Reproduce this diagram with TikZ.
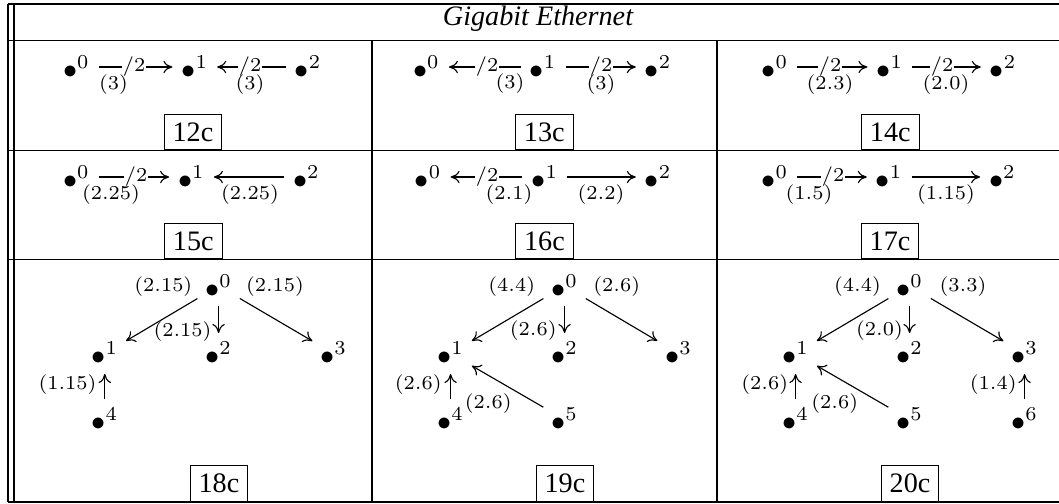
\documentclass[tikz,border=0pt]{standalone}
\usepackage[no-math]{fontspec}
\setmainfont{Liberation Serif}
\usetikzlibrary{arrows.meta}

\begin{document}
\begin{tikzpicture}[
  x=0.355pt, y=-0.355pt,
  >={To[length=3.2pt,width=4.4pt]},
  rule/.style={line width=0.4pt},
  vtx/.style={inner sep=0pt, font=\fontsize{10}{12}\selectfont},
  lbl/.style={inner sep=0pt, font=\fontsize{7}{8.4}\selectfont},
  cut/.style={inner sep=0.3pt, fill=white, font=\fontsize{7}{8.4}\selectfont},
  tag/.style={draw, line width=0.4pt, inner sep=3pt, anchor=south, font=\fontsize{10}{12}\selectfont},
  edge/.style={->, line width=0.4pt, shorten <=3pt, shorten >=3pt},
]
\useasboundingbox (0,0) rectangle (1059,504);

% --- Table rules ---
\draw[rule] (8,4) -- (1059,4);
\draw[rule] (8,40.5) -- (1059,40.5);
\draw[rule] (8,150.5) -- (1059,150.5);
\draw[rule] (8,259.5) -- (1059,259.5);
\draw[rule] (8,502) -- (1059,502);
\draw[rule] (8,4) -- (8,502);
\draw[rule] (14,4) -- (14,502);
\draw[rule] (372,40.5) -- (372,502);
\draw[rule] (717,40.5) -- (717,502);

% --- Header ---
\node[font=\fontsize{10}{12}\selectfont\itshape, anchor=base] (title) at (538,25) {Gigabit Ethernet};

% --- 12c ---
\node[vtx] (a0) at (76.5,67) {$\bullet^0$};
\node[vtx] (a1) at (194.8,67) {$\bullet^1$};
\node[vtx] (a2) at (308.2,67) {$\bullet^2$};
\draw[edge] (a0) -- (a1);
\draw[edge] (a2) -- (a1);
\node[cut] (c12a) at (134,67) {$/2$};
\node[cut] (c12b) at (250,67) {$/2$};
\node[lbl] (l12a) at (113.5,85) {$(3)$};
\node[lbl] (l12b) at (250,85) {$(3)$};
\node[tag] (t12) at (193,150.5) {12c};

% --- 13c ---
\node[vtx] (b0) at (426.5,67) {$\bullet^0$};
\node[vtx] (b1) at (543.2,67) {$\bullet^1$};
\node[vtx] (b2) at (658.2,67) {$\bullet^2$};
\draw[edge] (b1) -- (b0);
\draw[edge] (b1) -- (b2);
\node[cut] (c13a) at (487,67) {$/2$};
\node[cut] (c13b) at (601,67) {$/2$};
\node[lbl] (l13a) at (510,84) {$(3)$};
\node[lbl] (l13b) at (601,85) {$(3)$};
\node[tag] (t13) at (544.3,150.5) {13c};

% --- 14c ---
\node[vtx] (c0) at (774.8,67) {$\bullet^0$};
\node[vtx] (c1) at (889.8,67) {$\bullet^1$};
\node[vtx] (c2) at (1003.2,67) {$\bullet^2$};
\draw[edge] (c0) -- (c1);
\draw[edge] (c1) -- (c2);
\node[cut] (c14a) at (830,67) {$/2$};
\node[cut] (c14b) at (942,67) {$/2$};
\node[lbl] (l14a) at (830,85) {$(2.3)$};
\node[lbl] (l14b) at (946,85) {$(2.0)$};
\node[tag] (t14) at (890.3,150.5) {14c};

% --- 15c ---
\node[vtx] (d0) at (76.5,177) {$\bullet^0$};
\node[vtx] (d1) at (191.5,177) {$\bullet^1$};
\node[vtx] (d2) at (306.5,177) {$\bullet^2$};
\draw[edge] (d0) -- (d1);
\draw[edge] (d2) -- (d1);
\node[cut] (c15a) at (136,177) {$/2$};
\node[lbl] (l15a) at (111,195) {$(2.25)$};
\node[lbl] (l15b) at (250,195) {$(2.25)$};
\node[tag] (t15) at (193.3,259.5) {15c};

% --- 16c ---
\node[vtx] (e0) at (428.2,177) {$\bullet^0$};
\node[vtx] (e1) at (544.8,177) {$\bullet^1$};
\node[vtx] (e2) at (658.2,177) {$\bullet^2$};
\draw[edge] (e1) -- (e0);
\draw[edge] (e1) -- (e2);
\node[cut] (c16a) at (487,177) {$/2$};
\node[lbl] (l16a) at (509,195) {$(2.1)$};
\node[lbl] (l16b) at (601,195) {$(2.2)$};
\node[tag] (t16) at (544.5,259.5) {16c};

% --- 17c ---
\node[vtx] (f0) at (774.8,177) {$\bullet^0$};
\node[vtx] (f1) at (889.2,177) {$\bullet^1$};
\node[vtx] (f2) at (1002.5,177) {$\bullet^2$};
\draw[edge] (f0) -- (f1);
\draw[edge] (f1) -- (f2);
\node[cut] (c17a) at (833,177) {$/2$};
\node[lbl] (l17a) at (809,195) {$(1.5)$};
\node[lbl] (l17b) at (946,195) {$(1.15)$};
\node[tag] (t17) at (890,259.5) {17c};

% --- 18c ---
\node[vtx] (g0) at (218.6,286) {$\bullet^0$};
\node[vtx] (g1) at (104.8,353.5) {$\bullet^1$};
\node[vtx] (g2) at (218.6,353.5) {$\bullet^2$};
\node[vtx] (g3) at (333.6,353.5) {$\bullet^3$};
\node[vtx] (g4) at (104.8,419.5) {$\bullet^4$};
\draw[edge] (g0) -- (g1);
\draw[edge] (g0) -- (g2);
\draw[edge] (g0) -- (g3);
\draw[edge] (g4) -- (g1);
\node[lbl] (l18a) at (163.3,287) {$(2.15)$};
\node[lbl] (l18b) at (275,287) {$(2.15)$};
\node[lbl] (l18c) at (182.5,332) {$(2.15)$};
\node[lbl] (l18d) at (67.5,385) {$(1.15)$};
\node[tag] (t18) at (219,502) {18c};

% --- 19c ---
\node[vtx] (h0) at (564.6,286) {$\bullet^0$};
\node[vtx] (h1) at (450.6,353.5) {$\bullet^1$};
\node[vtx] (h2) at (564.6,353.5) {$\bullet^2$};
\node[vtx] (h3) at (678.6,353.5) {$\bullet^3$};
\node[vtx] (h4) at (450.6,419.5) {$\bullet^4$};
\node[vtx] (h5) at (564.6,419.5) {$\bullet^5$};
\draw[edge] (h0) -- (h1);
\draw[edge] (h0) -- (h2);
\draw[edge] (h0) -- (h3);
\draw[edge] (h4) -- (h1);
\draw[edge] (h5) -- (h1);
\node[lbl] (l19a) at (511.7,287) {$(4.4)$};
\node[lbl] (l19b) at (616.7,287) {$(2.6)$};
\node[lbl] (l19c) at (533.3,331) {$(2.6)$};
\node[lbl] (l19d) at (418.3,385) {$(2.6)$};
\node[lbl] (l19e) at (488.3,404) {$(2.6)$};
\node[tag] (t19) at (565,502) {19c};

% --- 20c ---
\node[vtx] (k0) at (909.6,286) {$\bullet^0$};
\node[vtx] (k1) at (795.6,353.5) {$\bullet^1$};
\node[vtx] (k2) at (909.6,353.5) {$\bullet^2$};
\node[vtx] (k3) at (1024.6,353.5) {$\bullet^3$};
\node[vtx] (k4) at (795.6,419.5) {$\bullet^4$};
\node[vtx] (k5) at (909.6,419.5) {$\bullet^5$};
\node[vtx] (k6) at (1024.6,419.5) {$\bullet^6$};
\draw[edge] (k0) -- (k1);
\draw[edge] (k0) -- (k2);
\draw[edge] (k0) -- (k3);
\draw[edge] (k4) -- (k1);
\draw[edge] (k5) -- (k1);
\draw[edge] (k6) -- (k3);
\node[lbl] (l20a) at (857.5,287) {$(4.4)$};
\node[lbl] (l20b) at (963,287) {$(3.3)$};
\node[lbl] (l20c) at (879.5,331) {$(2.0)$};
\node[lbl] (l20d) at (764.7,385) {$(2.6)$};
\node[lbl] (l20e) at (834.7,404) {$(2.6)$};
\node[lbl] (l20f) at (993.3,385) {$(1.4)$};
\node[tag] (t20) at (910,502) {20c};

\end{tikzpicture}
\end{document}
